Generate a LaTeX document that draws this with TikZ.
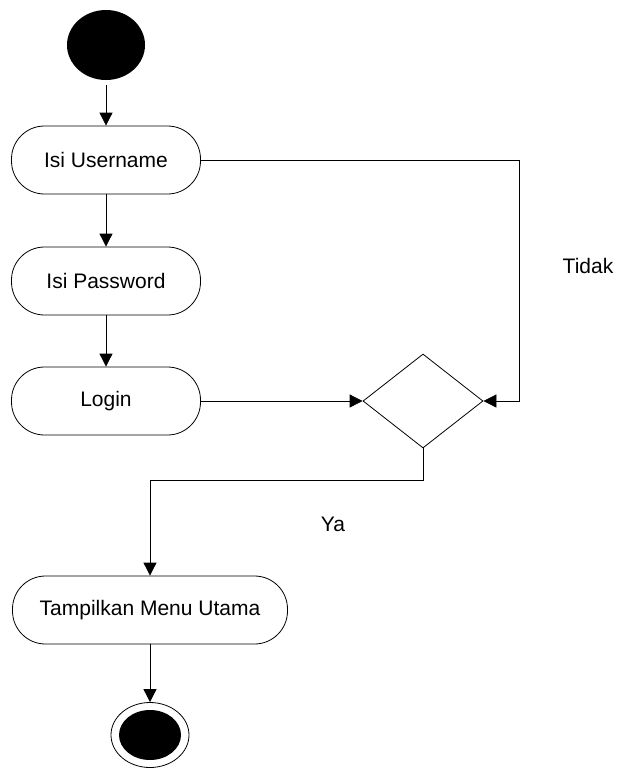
\documentclass[tikz,border=0pt]{standalone}
\usepackage{fontspec}
\setmainfont{Liberation Sans}
\usetikzlibrary{arrows.meta,shapes.geometric,positioning}

\begin{document}
\begin{tikzpicture}[x=1pt, y=-1pt,
		act/.style={draw, line width=0.8pt, rounded corners=33pt, minimum height=68pt, inner sep=0pt, font=\fontsize{21}{25}\selectfont},
		flow/.style={line width=0.8pt, -{Triangle[length=13pt,width=13pt]}},
		lbl/.style={font=\fontsize{21}{25}\selectfont}]
			%%%%% START %%%%%
			
			\useasboundingbox (0,0) rectangle (618,772);
			
			\node[fill=black, ellipse, minimum width=78pt, minimum height=70pt, inner sep=0pt] (start) at (106,45) {};
			
			\node[act, minimum width=189pt] (username) at (106,160) {Isi Username};
			\node[act, minimum width=189pt] (password) at (106,281) {Isi Password};
			\node[act, minimum width=189pt] (login) at (106,401) {Login};
			
			\node[draw, line width=0.8pt, diamond, aspect=1.277, minimum width=120pt, minimum height=94pt, inner sep=0pt] (cek) at (423,401) {};
			
			\node[act, minimum width=275pt] (menu) at (150,610) {Tampilkan Menu Utama};
			
			\node[draw, line width=0.8pt, ellipse, minimum width=78pt, minimum height=65pt, inner sep=0pt] (finish) at (150,735) {};
			\node[fill=black, ellipse, minimum width=62pt, minimum height=50pt, inner sep=0pt] (finishdot) at (finish) {};
			
			\node[lbl] (tidak) at (588,266) {Tidak};
			\node[lbl] (ya) at (333,524) {Ya};
			
			\coordinate (tidakbend) at (519,160);
			\coordinate (yabend) at (423,480);
			
			\draw[flow, shorten <=5pt] (start) -- (username);
			\draw[flow] (username) -- (password);
			\draw[flow] (password) -- (login);
			\draw[flow] (login) -- (cek);
			\draw[flow] (username.east) -- (tidakbend) |- (cek.east);
			\draw[flow] (cek.south) -- (yabend) -| (menu.north);
			\draw[flow] (menu) -- (finish);
			
			%%%%% END %%%%%
\end{tikzpicture}
\end{document}
